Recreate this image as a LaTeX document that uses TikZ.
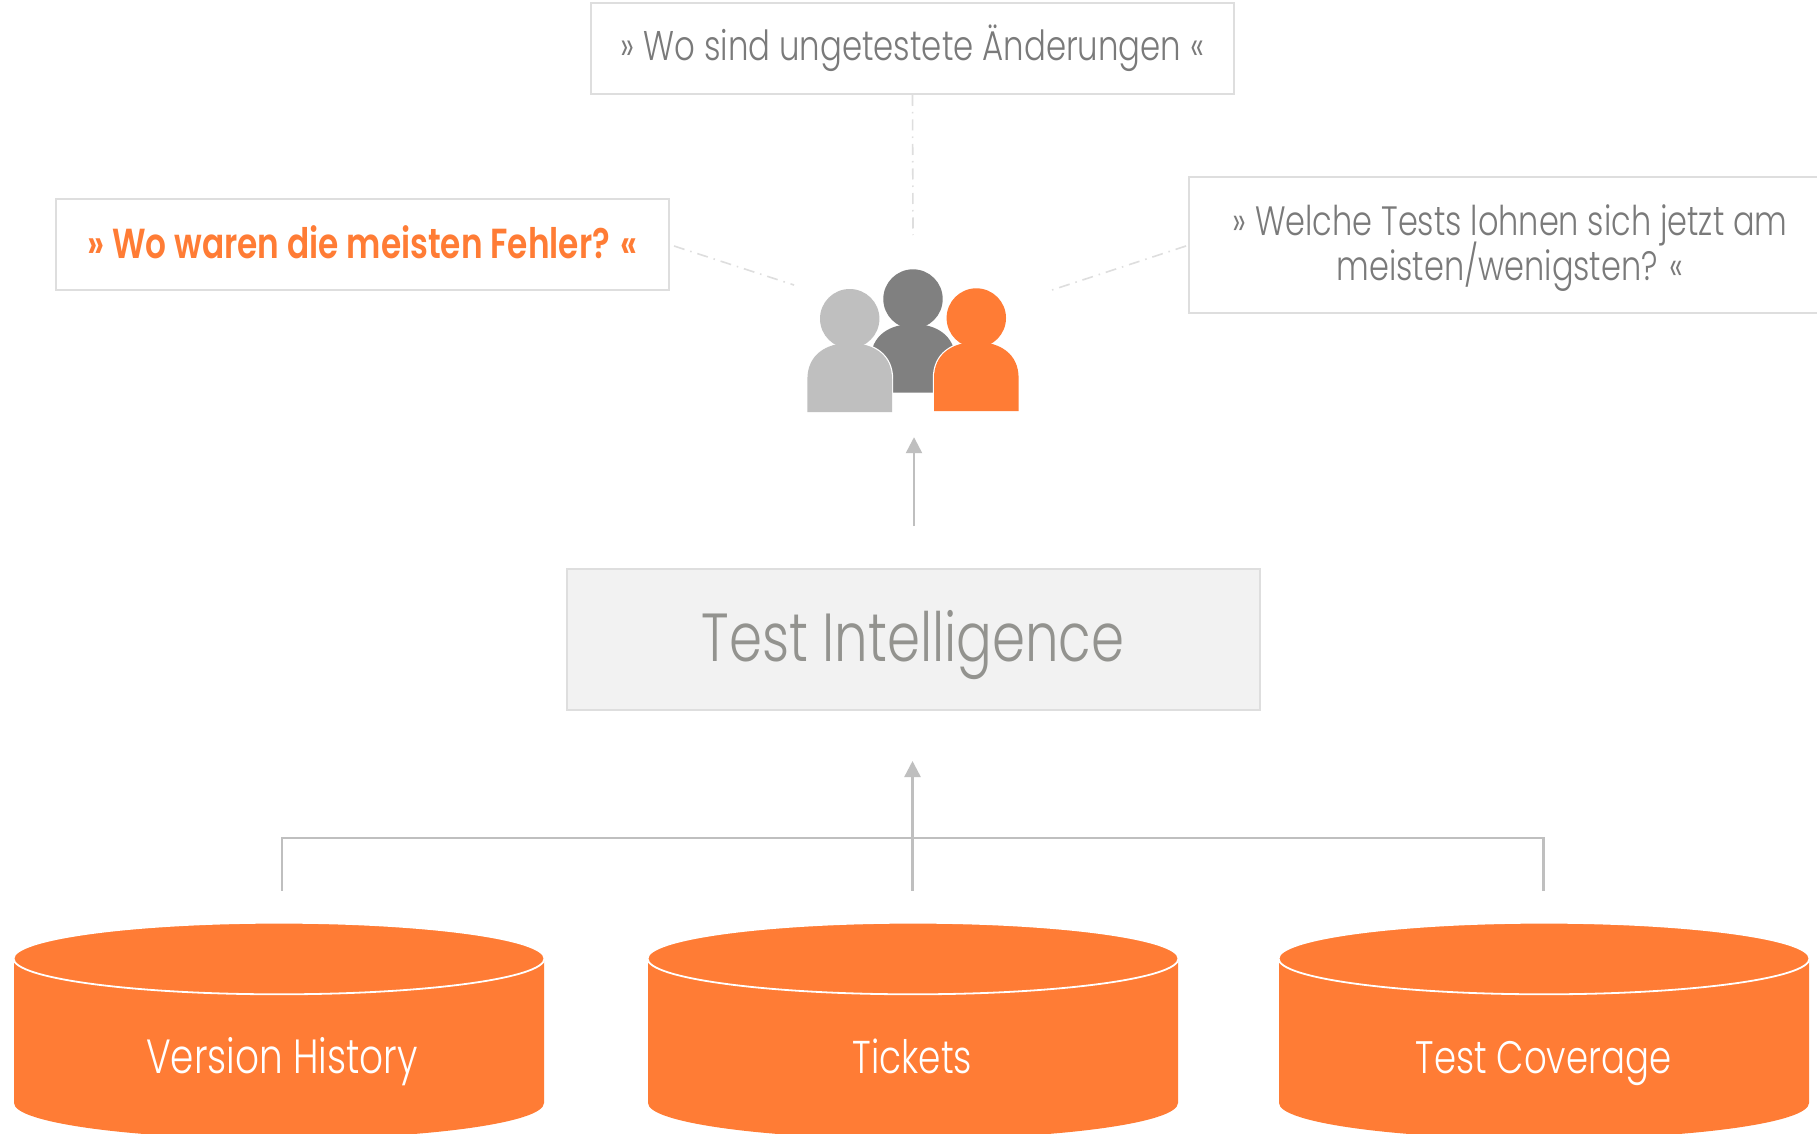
\documentclass[tikz,border=0pt]{standalone}
\usepackage{fontspec}
\setmainfont{Poppins Light}[FakeStretch=0.78,BoldFont={Poppins SemiBold},BoldFeatures={FakeStretch=0.78}]
\usetikzlibrary{arrows.meta}
\definecolor{orangeC}{HTML}{FF7C35}
\definecolor{textC}{HTML}{7A7A7A}
\definecolor{titleC}{HTML}{93938F}
\definecolor{boxC}{HTML}{DEDEDE}
\definecolor{lineC}{HTML}{BFBFBF}
\definecolor{darkP}{HTML}{808080}
\definecolor{midFill}{HTML}{F2F2F2}
\tikzset{
  qbox/.style={draw=boxC,line width=2pt,fill=white,align=center,text=textC,font=\fontsize{41.5}{45}\selectfont,inner sep=0pt},
  dashlink/.style={draw=boxC,line width=1.6pt,dash pattern=on 11pt off 6pt on 1.5pt off 6pt},
  link/.style={draw=lineC,line width=2.4pt},
  arrowlink/.style={link,-{Triangle[length=16pt,width=16pt]}},
  cyllabel/.style={text=white,text height=32pt,text depth=10pt,inner sep=0pt},
}
\newcommand{\bl}[2]{\raisebox{-#1pt}[0pt][0pt]{#2}}
\newcommand{\cyl}[1]{%
  \fill[orangeC] (#1,960) -- (#1,1103) arc[start angle=180,end angle=360,x radius=265pt,y radius=36pt] -- (#1+530,960) -- cycle;
  \draw[white,line width=1.8pt,fill=orangeC] (#1+265,958.5) ellipse[x radius=265.5pt,y radius=35.8pt];
}
\newcommand{\bodypath}[3]{(#1-42.3,#3) -- (#1-42.3,#2+36) .. controls (#1-42.3,#2+12) and (#1-24,#2) .. (#1,#2) .. controls (#1+24,#2) and (#1+42.3,#2+12) .. (#1+42.3,#2+36) -- (#1+42.3,#3)}
\newcommand{\person}[5]{% centre x, head y, body top, body bottom, colour
  \draw[white,line width=2.4pt] \bodypath{#1}{#3}{#4};
  \fill[#5] \bodypath{#1}{#3}{#4} -- cycle;
  \fill[#5] (#1,#2) circle[radius=29.7pt];
}
\begin{document}
\begin{tikzpicture}[x=1pt,y=-1pt]
\useasboundingbox (0,0) rectangle (1817,1134);
\clip (0,0) rectangle (1817,1134);
\fill[white] (0,0) rectangle (1817,1134);

% question boxes
\node[qbox,minimum width=643pt,minimum height=91pt] (top) at (912.5,48.5) {\bl{12.5}{» Wo sind ungetestete Änderungen «}};
\node[qbox,minimum width=613pt,minimum height=91pt,text=orangeC,font=\fontsize{42}{45}\selectfont\bfseries] (left) at (362.5,244.5) {\bl{13.5}{» Wo waren die meisten Fehler? «}};
\node[qbox,minimum width=642pt,minimum height=136pt,font=\fontsize{41}{45}\selectfont] (right) at (1510,245) {\bl{12.5}{» Welche Tests lohnen sich jetzt am}\\\bl{12.5}{meisten/wenigsten? «}};

% middle box
\node[draw=boxC,line width=2pt,fill=midFill,minimum width=693pt,minimum height=141pt,text=titleC,font=\fontsize{68}{80}\selectfont,inner sep=0pt] (ti) at (913,639.5) {\bl{22.2}{Test Intelligence}};

% people
\node[minimum width=212pt,minimum height=143pt,inner sep=0pt] (people) at (913,340.5) {};
\person{913}{299}{324}{392.7}{darkP}
\person{849.7}{318.7}{343}{412}{lineC}
\person{976.3}{318}{342}{411}{orangeC}

% dash-dot links
\coordinate (topEnd) at (913,235);
\coordinate (leftStart) at (674,246);
\coordinate (leftEnd) at (794,285);
\coordinate (rightStart) at (1186,246);
\coordinate (rightEnd) at (1052,290);
\draw[dashlink] (top.south) -- (topEnd);
\draw[dashlink] (leftStart) -- (leftEnd);
\draw[dashlink] (rightStart) -- (rightEnd);

% cylinders
\cyl{14}
\cyl{648}
\cyl{1279}
\node[cyllabel,font=\fontsize{48}{50}\selectfont] (c1) at (282,1062) {Version History};
\node[cyllabel,font=\fontsize{46}{50}\selectfont] (c2) at (912.5,1062) {Tickets};
\node[cyllabel,font=\fontsize{45.5}{50}\selectfont] (c3) at (1543.5,1062) {Test Coverage};

% connectors
\draw[arrowlink,shorten <=42pt,shorten >=25pt] ([xshift=1pt]ti.north) -- ([xshift=1pt]people.south);
\coordinate (bus) at (913,838);
\draw[link,shorten <=150pt] (c1.north) |- (bus);
\draw[link,shorten <=150pt] (c3.north) |- (bus);
\draw[arrowlink,shorten <=150pt,shorten >=50pt] (c2.north) -- (ti.south -| c2.north);
\end{tikzpicture}
\end{document}
